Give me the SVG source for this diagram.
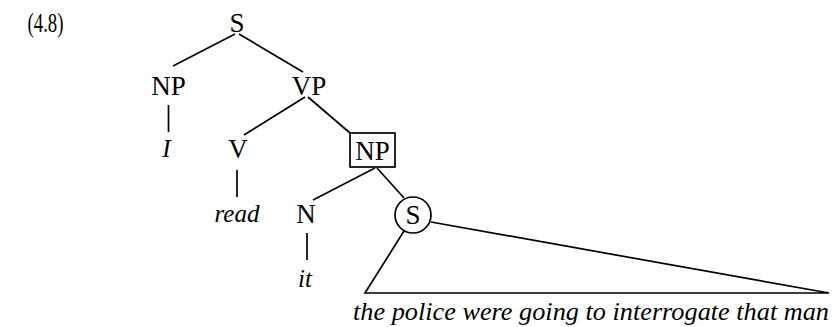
<svg xmlns="http://www.w3.org/2000/svg" width="836" height="327" viewBox="0 0 836 327">
<style>
text{font-family:'Liberation Serif','DejaVu Serif',serif;fill:#000;text-anchor:middle}
.r{font-size:27px}
.i{font-size:25px;font-style:italic}
.e{fill:none;stroke:#000;stroke-width:1.7}
</style>
<rect width="836" height="327" fill="#fff"/>
<text class="r" x="45.5" y="32" textLength="36" lengthAdjust="spacingAndGlyphs">(4.8)</text>
<g id="S0"><text class="r" x="237" y="32">S</text></g>
<g id="NP1"><text class="r" x="168.5" y="95">NP</text></g>
<g id="VP"><text class="r" x="309" y="95">VP</text></g>
<g id="I"><text class="i" x="166.5" y="157">I</text></g>
<g id="V"><text class="r" x="238" y="158">V</text></g>
<g id="NP2"><rect class="e" x="350" y="133" width="45" height="34"/><text class="r" x="372.5" y="160">NP</text></g>
<g id="read"><text class="i" x="237" y="222">read</text></g>
<g id="N"><text class="r" x="306" y="223">N</text></g>
<g id="S1"><circle class="e" cx="413" cy="215" r="18"/><text class="r" x="413" y="224">S</text></g>
<g id="it"><text class="i" x="305" y="287">it</text></g>
<g id="clause"><text class="i" x="353" y="320" style="text-anchor:start" textLength="476" lengthAdjust="spacingAndGlyphs">the police were going to interrogate that man</text></g>
<g id="connectors">
<line class="e" x1="235" y1="34" x2="173" y2="66"/>
<line class="e" x1="239" y1="34" x2="303" y2="72"/>
<line class="e" x1="168.5" y1="105" x2="168.5" y2="132"/>
<line class="e" x1="305" y1="97" x2="244" y2="135"/>
<line class="e" x1="308" y1="97" x2="350" y2="133"/>
<line class="e" x1="237" y1="170" x2="237" y2="197"/>
<line class="e" x1="375" y1="168" x2="313" y2="200"/>
<line class="e" x1="377" y1="168" x2="404" y2="198"/>
<line class="e" x1="307" y1="233" x2="307" y2="260"/>
<polyline class="e" points="404,231 365,293 829,293 431,222"/>
</g>
</svg>
